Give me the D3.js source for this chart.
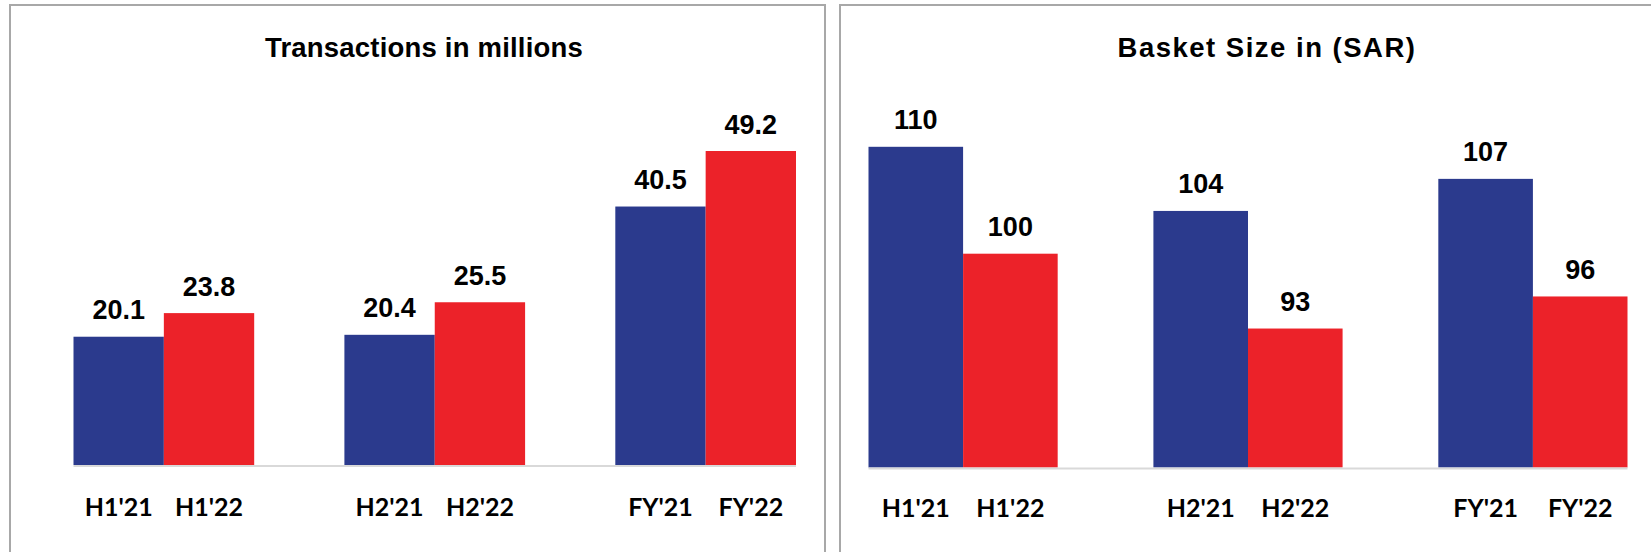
<!DOCTYPE html>
<html>
<head>
<meta charset="utf-8">
<script src="https://cdn.jsdelivr.net/npm/d3@7"></script>
<style>
  html, body { margin: 0; padding: 0; background: #fff; }
  svg { display: block; }
</style>
</head>
<body>
<svg id="chart" width="1651" height="552"></svg>
<script>
// ---- data ----
const groups = ["H1", "H2", "FY"];
const seriesKeys = ["y21", "y22"];
const labels21 = ["H1'21", "H2'21", "FY'21"];
const labels22 = ["H1'22", "H2'22", "FY'22"];
const txn21 = [20.1, 20.4, 40.5];
const txn22 = [23.8, 25.5, 49.2];
const basket21 = [110, 104, 107];
const basket22 = [100, 93, 96];
const titleTxn = "Transactions in millions";
const titleBasket = "Basket Size in (SAR)";

const colors = { y21: "#2B3A8D", y22: "#EC2229" };

const svg = d3.select("#chart");

// panel borders
svg.append("rect").attr("x", 10).attr("y", 5).attr("width", 815).attr("height", 560)
  .attr("fill", "none").attr("stroke", "#a8a8a8").attr("stroke-width", 2);
svg.append("rect").attr("x", 840).attr("y", 5).attr("width", 830).attr("height", 560)
  .attr("fill", "none").attr("stroke", "#a8a8a8").attr("stroke-width", 2);

function drawPanel(cfg) {
  const g = svg.append("g");
  const x0 = d3.scaleBand().domain(groups).range(cfg.xRange).paddingInner(cfg.padInner).paddingOuter(0);
  const x1 = d3.scaleBand().domain(seriesKeys).range([0, x0.bandwidth()]).padding(0);
  const y = d3.scaleLinear().domain(cfg.yDomain).range(cfg.yRange);

  const rows = groups.map((grp, i) => ({
    grp,
    vals: [
      { key: "y21", v: cfg.v21[i], label: labels21[i] },
      { key: "y22", v: cfg.v22[i], label: labels22[i] }
    ]
  }));

  // title
  g.append("text")
    .attr("x", cfg.titleX).attr("y", 57)
    .attr("text-anchor", "middle")
    .attr("font-family", "'Liberation Sans', Arial, sans-serif")
    .attr("font-weight", "bold").attr("font-size", cfg.titleSize)
    .attr("letter-spacing", cfg.titleSpacing)
    .attr("fill", "#000")
    .text(cfg.title);

  const gg = g.selectAll("g.grp").data(rows).enter().append("g")
    .attr("transform", d => `translate(${x0(d.grp)},0)`);

  gg.selectAll("rect").data(d => d.vals).enter().append("rect")
    .attr("x", d => x1(d.key))
    .attr("width", x1.bandwidth())
    .attr("y", d => y(d.v))
    .attr("height", d => y(cfg.yDomain[0]) - y(d.v))
    .attr("fill", d => colors[d.key]);

  // axis line
  g.append("line")
    .attr("x1", cfg.xRange[0]).attr("x2", cfg.xRange[1])
    .attr("y1", y(cfg.yDomain[0]) + 1).attr("y2", y(cfg.yDomain[0]) + 1)
    .attr("stroke", "#d9d9d9").attr("stroke-width", 2);

  // value labels
  gg.selectAll("text.val").data(d => d.vals).enter().append("text")
    .attr("class", "val")
    .attr("x", d => x1(d.key) + x1.bandwidth() / 2)
    .attr("y", d => y(d.v) - 17.5)
    .attr("text-anchor", "middle")
    .attr("font-family", "'Liberation Sans', Arial, sans-serif")
    .attr("font-weight", "bold").attr("font-size", 27)
    .attr("fill", "#000")
    .text(d => cfg.fmt(d.v));

  // category labels
  gg.selectAll("text.cat").data(d => d.vals).enter().append("text")
    .attr("class", "cat")
    .attr("x", d => x1(d.key) + x1.bandwidth() / 2)
    .attr("y", cfg.catY)
    .attr("text-anchor", "middle")
    .attr("font-family", "Lato, 'Open Sans', sans-serif")
    .attr("font-weight", "bold").attr("font-size", 25)
    .attr("fill", "#000")
    .text(d => d.label);
}

drawPanel({
  title: titleTxn, titleX: 424, titleSize: 27.5, titleSpacing: 0.2,
  v21: txn21, v22: txn22,
  xRange: [73.5, 796], padInner: 0.333,
  yDomain: [0, 60], yRange: [465, 465 - 60 * 6.382],
  fmt: d3.format(".1f"), catY: 516
});

drawPanel({
  title: titleBasket, titleX: 1267, titleSize: 27.5, titleSpacing: 1.5,
  v21: basket21, v22: basket22,
  xRange: [868.5, 1627.5], padInner: 0.336,
  yDomain: [80, 115], yRange: [467.5, 467.5 - 35 * 10.69],
  fmt: d3.format("d"), catY: 517
});
</script>
</body>
</html>
